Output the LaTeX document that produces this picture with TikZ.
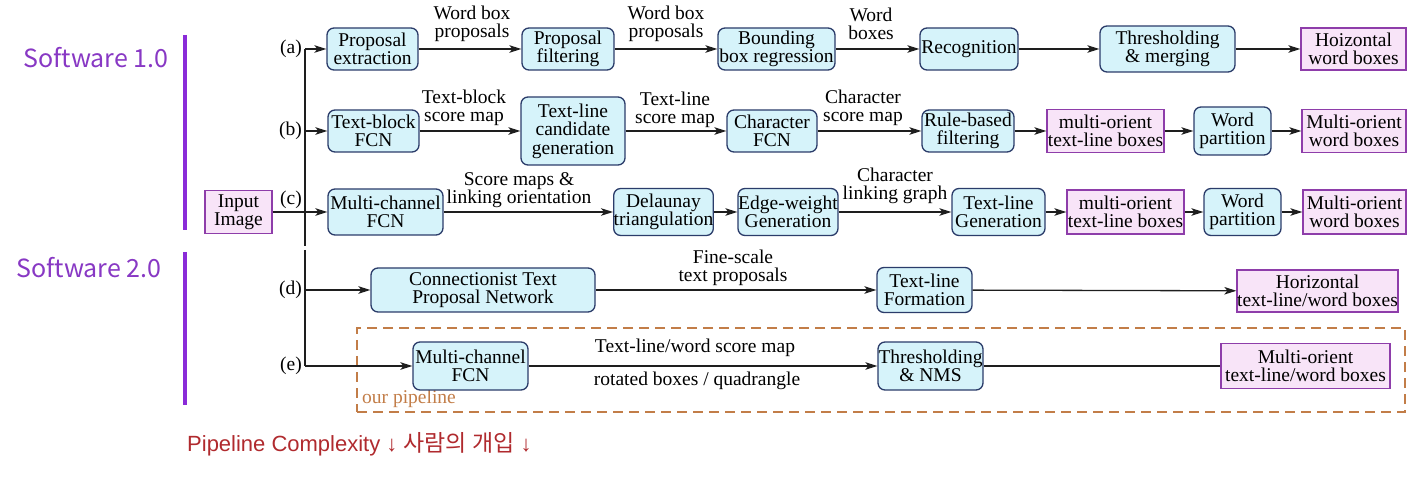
\documentclass[tikz,border=0pt]{standalone}
\usepackage{fontspec}
\setmainfont{Liberation Serif}
\newfontfamily\cjkfont{Noto Sans CJK KR}
\newfontfamily\arialfont{Liberation Sans}
\usetikzlibrary{arrows.meta}
\definecolor{boxfill}{HTML}{D6F3FA}
\definecolor{boxdraw}{HTML}{2B3C6A}
\definecolor{outfill}{HTML}{F8E4F8}
\definecolor{outdraw}{HTML}{8E3DAA}
\definecolor{swpurple}{HTML}{8838C4}
\definecolor{barpurple}{HTML}{8A2BD8}
\definecolor{pipebrown}{HTML}{C27D48}
\definecolor{darkred}{HTML}{B02A2E}
\definecolor{arrowc}{HTML}{1E1E1E}
\newcommand\dfont{\rmfamily\fontsize{19.5}{18.5}\selectfont}
\begin{document}
\begin{tikzpicture}[x=1pt,y=-1pt,
 stepbox/.style={draw=boxdraw, fill=boxfill, rounded corners=7pt, line width=1.3pt, align=center, inner sep=0pt, font=\dfont},
 outbox/.style={draw=outdraw, fill=outfill, line width=1.3pt, align=center, inner sep=0pt, font=\dfont},
 lbl/.style={align=center, inner sep=0pt, font=\dfont},
 conn/.style={draw=arrowc, line width=1.3pt, -{Stealth[length=12pt,width=7.5pt,inset=3pt]}},
 plain/.style={draw=arrowc, line width=1.3pt},
 wh/.style 2 args={minimum width=#1pt, minimum height=#2pt}
]
\useasboundingbox (0,0) rectangle (1414,478);

% side labels
\node[font=\cjkfont\fontsize{25}{25}\selectfont, text=swpurple] (sw1) at (96,58) {Software 1.0};
\node[font=\cjkfont\fontsize{25}{25}\selectfont, text=swpurple] (sw2) at (89,268) {Software 2.0};
\draw[barpurple, line width=4pt] (185,35) -- (185,230);
\draw[barpurple, line width=4pt] (185,252) -- (185,405);
\node[anchor=west, text=darkred, inner sep=0pt, font=\arialfont\fontsize{22}{22}\selectfont] (pc) at (187,444) {Pipeline Complexity ↓ {\cjkfont\fontsize{23}{23}\selectfont 사람의 개입} ↓};

% dashed pipeline box
\node[draw=pipebrown, dashed, dash pattern=on 10pt off 6pt, line width=1.5pt, minimum width=1048pt, minimum height=84pt, inner sep=0pt] (ours) at (881,370) {};
\node[anchor=west, text=pipebrown, inner sep=0pt, font=\dfont] (ourlbl) at (362,399) {our pipeline};

% input
\node[outbox, wh={67}{43}] (in) at (238.5,212) {Input\\Image};

% trunk
\coordinate (ta) at (305,49);
\coordinate (tb) at (305,131);
\coordinate (td) at (305,290);
\coordinate (te) at (305,366);
\coordinate (g1) at (305,246);
\coordinate (g2) at (305,250);
\draw[plain] (ta) -- (g1);
\draw[plain] (g2) -- (te);

\node[lbl, anchor=east] (la) at (302,49) {(a)};
\node[lbl, anchor=east] (lb) at (302,131) {(b)};
\node[lbl, anchor=east] (lc) at (302,200) {(c)};
\node[lbl, anchor=east] (ld) at (302,290) {(d)};
\node[lbl, anchor=east] (le) at (302,366) {(e)};

% row a
\node[stepbox, wh={91}{42}] (pe) at (372.5,49) {Proposal\\extraction};
\node[stepbox, wh={92}{42}] (pf) at (568,49) {Proposal\\filtering};
\node[stepbox, wh={117}{42}] (bbr) at (776.5,49) {Bounding\\box regression};
\node[stepbox, wh={98}{42}] (rec) at (969,49) {Recognition};
\node[stepbox, wh={135}{46}] (tm) at (1167.5,49) {Thresholding\\\&{} merging};
\node[outbox, wh={105}{42}] (hwb) at (1353.5,49) {Hoizontal\\word boxes};
\node[lbl] (la1) at (472,24) {Word box\\proposals};
\node[lbl] (la2) at (666,24) {Word box\\proposals};
\node[lbl] (la3) at (871,24) {Word\\boxes};
\draw[conn] (ta) -- (pe);
\draw[conn] (pe) -- (pf);
\draw[conn] (pf) -- (bbr);
\draw[conn] (bbr) -- (rec);
\draw[conn] (rec) -- (tm);
\draw[conn] (tm) -- (hwb);

% row b
\node[stepbox, wh={91}{42}] (tbf) at (373.5,131) {Text-block\\FCN};
\node[stepbox, wh={104}{68}] (tlc) at (573,131) {Text-line\\candidate\\generation};
\node[stepbox, wh={90}{42}] (cf) at (772,131) {Character\\FCN};
\node[stepbox, wh={92}{42}] (rbf) at (968,131) {Rule-based\\filtering};
\node[outbox, wh={117}{43}] (mo1) at (1105.5,131) {multi-orient\\text-line boxes};
\node[stepbox, wh={77}{48}] (wp1) at (1232.5,131) {Word\\partition};
\node[outbox, wh={104}{43}] (mw1) at (1354,131) {Multi-orient\\word boxes};
\node[lbl] (lb1) at (464,108) {Text-block\\score map};
\node[lbl] (lb2) at (675,110) {Text-line\\score map};
\node[lbl] (lb3) at (863,108) {Character\\score map};
\draw[conn] (tb) -- (tbf);
\draw[conn] (tbf) -- (tlc);
\draw[conn] (tlc) -- (cf);
\draw[conn] (cf) -- (rbf);
\draw[conn] (rbf) -- (mo1);
\draw[conn] (mo1) -- (wp1);
\draw[conn] (wp1) -- (mw1);

% row c
\node[stepbox, wh={115}{46}] (mcf) at (385.5,212) {Multi-channel\\FCN};
\node[stepbox, wh={99}{47}] (dt) at (663.5,212) {Delaunay\\triangulation};
\node[stepbox, wh={100}{47}] (ewg) at (788,212) {Edge-weight\\Generation};
\node[stepbox, wh={93}{47}] (tlg) at (998.5,212) {Text-line\\Generation};
\node[outbox, wh={117}{44}] (mo2) at (1125.5,212) {multi-orient\\text-line boxes};
\node[stepbox, wh={77}{47}] (wp2) at (1242.5,212) {Word\\partition};
\node[outbox, wh={103}{44}] (mw2) at (1354.5,212) {Multi-orient\\word boxes};
\node[lbl] (lc1) at (519,190) {Score maps \&\\linking orientation};
\node[lbl] (lc2) at (895,186) {Character\\linking graph};
\draw[conn] (in) -- (mcf);
\draw[conn] (mcf) -- (dt);
\draw[conn] (dt) -- (ewg);
\draw[conn] (ewg) -- (tlg);
\draw[conn] (tlg) -- (mo2);
\draw[conn] (mo2) -- (wp2);
\draw[conn] (wp2) -- (mw2);

% row d
\node[stepbox, wh={224}{44}] (ctpn) at (483,290) {Connectionist Text\\Proposal Network};
\node[stepbox, wh={95}{45}] (tlf) at (924.5,290) {Text-line\\Formation};
\node[outbox, wh={161}{42}] (hw) at (1317.5,291) {Horizontal\\text-line/word boxes};
\node[lbl] (ld1) at (733,268) {Fine-scale\\text proposals};
\draw[conn] (td) -- (ctpn);
\draw[conn] (ctpn) -- (tlf);
\draw[conn] (tlf) -- (hw);

% row e
\node[stepbox, wh={115}{48}] (mcf2) at (470.5,366) {Multi-channel\\FCN};
\node[stepbox, wh={105}{48}] (tnms) at (930.5,366) {Thresholding\\\&{} NMS};
\node[outbox, wh={169}{45}] (mow) at (1305.5,366) {Multi-orient\\text-line/word boxes};
\node[lbl] (le1) at (695,348) {Text-line/word score map};
\node[lbl] (le2) at (697,381) {rotated boxes / quadrangle};
\draw[conn] (te) -- (mcf2);
\draw[conn] (mcf2) -- (tnms);
\draw[plain] (tnms) -- (mow);
\end{tikzpicture}
\end{document}
